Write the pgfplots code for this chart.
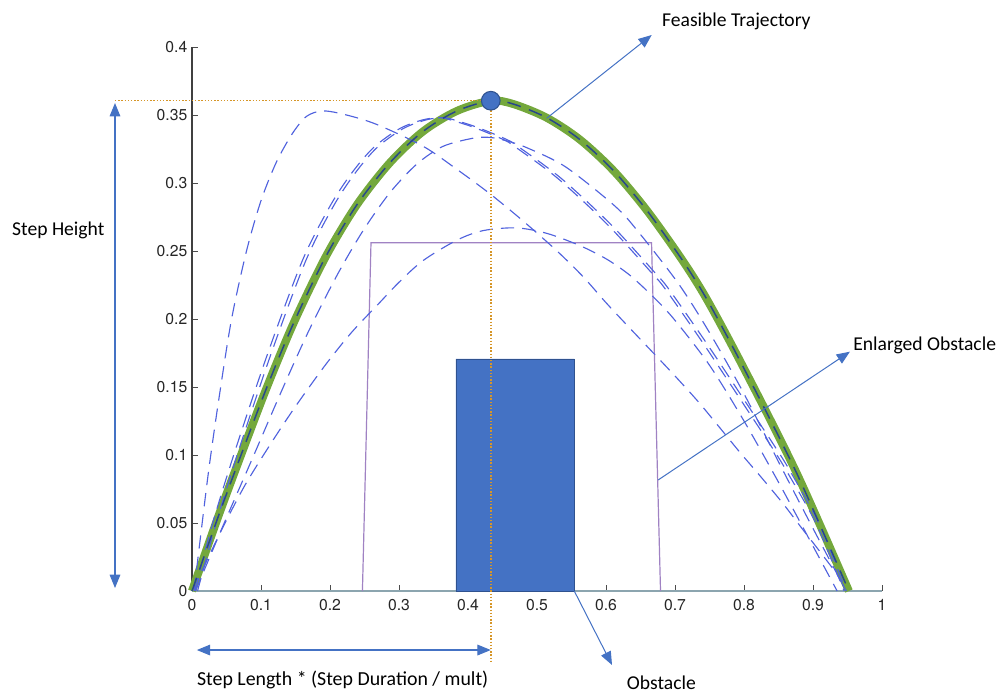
\documentclass[border=0pt]{standalone}
\usepackage{fontspec}
\setmainfont{Carlito}
\newfontfamily\helv{TeX Gyre Heros}
\usepackage{pgfplots}
\pgfplotsset{compat=1.18}
\usetikzlibrary{arrows.meta}
\definecolor{annot}{HTML}{4472C4}
\definecolor{annotdark}{HTML}{2F528F}
\definecolor{feas}{RGB}{116,168,60}
\definecolor{navy}{RGB}{40,70,140}
\definecolor{dashc}{RGB}{80,98,222}
\definecolor{enl}{RGB}{160,130,195}
\definecolor{gold}{RGB}{214,150,40}
\definecolor{xaxisc}{RGB}{140,165,175}
\begin{document}
\begin{tikzpicture}
\useasboundingbox (0,0) rectangle (748.5pt,519.75pt);
\begin{axis}[
  at={(144pt,76.5pt)}, anchor=south west,
  scale only axis, width=517.5pt, height=408pt,
  xmin=0, xmax=1, ymin=0, ymax=0.4,
  axis x line*=bottom, axis y line*=left,
  axis line style={-},
  x axis line style={draw=xaxisc, line width=0.9pt},
  y axis line style={draw=black!75, line width=0.8pt},
  tick align=inside, major tick length=4.5pt,
  tick style={color=black!70, line width=0.7pt},
  xtick={0,0.1,0.2,0.3,0.4,0.5,0.6,0.7,0.8,0.9,1},
  xticklabels={0,0.1,0.2,0.3,0.4,0.5,0.6,0.7,0.8,0.9,1},
  ytick={0,0.05,0.1,0.15,0.2,0.25,0.3,0.35,0.4},
  yticklabels={0,0.05,0.1,0.15,0.2,0.25,0.3,0.35,0.4},
  /pgf/number format/assume math mode=true,
  ticklabel style={font=\helv\fontsize{11.8pt}{13pt}\selectfont, text=black!85},
  xticklabel style={yshift=-2.5pt},
  clip=false,
]
% obstacle
\addplot[fill=annot, draw=annotdark, line width=0.6pt] coordinates {(0.3826,0) (0.3826,0.1706) (0.554,0.1706) (0.554,0) (0.3826,0)};
% enlarged obstacle
\addplot[enl, line width=0.9pt] coordinates {(0.247,0) (0.2594,0.256) (0.666,0.256) (0.679,0)};
% feasible trajectory (green)
\addplot[feas, line width=6pt, smooth] coordinates {
(0,0) (0.038,0.0547) (0.077,0.108) (0.111,0.153) (0.149,0.199) (0.194,0.246) (0.239,0.284) (0.287,0.315) (0.335,0.338) (0.384,0.353) (0.433,0.3605) (0.466,0.358) (0.514,0.348) (0.562,0.332) (0.611,0.309) (0.659,0.280) (0.707,0.246) (0.741,0.219) (0.780,0.183) (0.833,0.131) (0.876,0.087) (0.915,0.043) (0.952,0)};
% candidate trajectories (dashed)
\addplot[dashc, line width=0.85pt, dash pattern=on 10pt off 6pt, smooth] coordinates {
(0.003,0) (0.010,0.030) (0.024,0.088) (0.038,0.138) (0.057,0.199) (0.079,0.250) (0.100,0.287) (0.122,0.315) (0.145,0.336) (0.166,0.349) (0.190,0.353) (0.224,0.350) (0.268,0.343) (0.335,0.327) (0.384,0.310) (0.432,0.292) (0.480,0.272) (0.529,0.250) (0.567,0.231) (0.600,0.212) (0.635,0.193) (0.678,0.170) (0.702,0.157) (0.734,0.139) (0.765,0.120) (0.794,0.102) (0.826,0.083) (0.857,0.064) (0.884,0.046) (0.913,0.027) (0.935,0.012) (0.948,0)};
\addplot[dashc, line width=0.85pt, dash pattern=on 10pt off 6pt, smooth] coordinates {
(0.004,0) (0.030,0.050) (0.063,0.104) (0.110,0.175) (0.160,0.243) (0.200,0.283) (0.231,0.307) (0.263,0.326) (0.301,0.340) (0.335,0.3465) (0.360,0.348) (0.374,0.3465) (0.408,0.341) (0.451,0.332) (0.470,0.326) (0.531,0.303) (0.603,0.269) (0.666,0.234) (0.686,0.222) (0.741,0.182) (0.792,0.143) (0.840,0.106) (0.862,0.088) (0.905,0.049) (0.945,0)};
\addplot[dashc, line width=0.85pt, dash pattern=on 10pt off 6pt, smooth] coordinates {
(0.008,0) (0.035,0.050) (0.068,0.104) (0.115,0.175) (0.165,0.243) (0.205,0.283) (0.236,0.307) (0.268,0.326) (0.306,0.340) (0.340,0.3465) (0.365,0.348) (0.379,0.3465) (0.413,0.341) (0.456,0.332) (0.475,0.326) (0.536,0.303) (0.608,0.269) (0.671,0.234) (0.691,0.222) (0.746,0.182) (0.797,0.143) (0.845,0.106) (0.867,0.088) (0.909,0.049) (0.948,0)};
\addplot[dashc, line width=0.85pt, dash pattern=on 10pt off 6pt, smooth] coordinates {
(0.005,0) (0.045,0.048) (0.088,0.098) (0.128,0.145) (0.168,0.190) (0.210,0.232) (0.248,0.265) (0.287,0.293) (0.326,0.314) (0.364,0.327) (0.408,0.333) (0.432,0.3335) (0.456,0.331) (0.485,0.326) (0.541,0.312) (0.613,0.283) (0.647,0.264) (0.705,0.226) (0.750,0.190) (0.800,0.145) (0.850,0.095) (0.900,0.046) (0.948,0)};
\addplot[dashc, line width=0.85pt, dash pattern=on 10pt off 6pt, smooth] coordinates {
(0.004,0) (0.012,0.012) (0.043,0.045) (0.077,0.078) (0.115,0.109) (0.149,0.135) (0.193,0.166) (0.231,0.190) (0.270,0.211) (0.300,0.227) (0.335,0.243) (0.384,0.258) (0.422,0.265) (0.470,0.267) (0.514,0.263) (0.562,0.254) (0.601,0.244) (0.635,0.232) (0.671,0.215) (0.700,0.199) (0.750,0.166) (0.800,0.125) (0.850,0.080) (0.900,0.033) (0.935,0)};
% dark dashed overlay on feasible trajectory
\addplot[navy, line width=1.1pt, dash pattern=on 10.5pt off 6.5pt, smooth] coordinates {
(0,0) (0.038,0.0547) (0.077,0.108) (0.111,0.153) (0.149,0.199) (0.194,0.246) (0.239,0.284) (0.287,0.315) (0.335,0.338) (0.384,0.353) (0.433,0.3605) (0.466,0.358) (0.514,0.348) (0.562,0.332) (0.611,0.309) (0.659,0.280) (0.707,0.246) (0.741,0.219) (0.780,0.183) (0.833,0.131) (0.876,0.087) (0.915,0.043) (0.952,0)};
% guide lines
\draw[gold, line width=1.1pt, dash pattern=on 1.1pt off 1.3pt] (axis cs:-0.1116,0.3605) -- (axis cs:0.433,0.3605);
\draw[gold, line width=1.1pt, dash pattern=on 1.1pt off 1.3pt] (axis cs:0.433,0.3605) -- (axis cs:0.433,-0.0522);
% peak marker
\addplot[only marks, mark=*, mark size=7pt, mark options={fill=annot, draw=annotdark, line width=0.8pt}] coordinates {(0.433,0.3605)};
% annotations
\draw[annot, line width=0.8pt, {Triangle[length=10pt,width=8pt]}-{Triangle[length=10pt,width=8pt]}] (axis cs:-0.1116,0.3588) -- (axis cs:-0.1116,0.0022);
\node[anchor=west, inner sep=0, font=\fontsize{14.7pt}{17pt}\selectfont] at (axis cs:-0.261,0.2654) {Step Height};
\draw[annot, line width=0.8pt, {Triangle[length=10pt,width=8pt]}-{Triangle[length=10pt,width=8pt]}] (axis cs:0.007,-0.0434) -- (axis cs:0.433,-0.0434);
\node[anchor=west, inner sep=0, font=\fontsize{14.9pt}{17pt}\selectfont] at (axis cs:0.007,-0.0654) {Step Length * (Step Duration / mult)};
\draw[annot, line width=0.75pt, -{Triangle[length=10pt,width=8pt]}] (axis cs:0.554,0) -- (axis cs:0.6087,-0.0544);
\node[anchor=west, inner sep=0, font=\fontsize{14.7pt}{17pt}\selectfont] at (axis cs:0.630,-0.0676) {Obstacle};
\draw[annot, line width=0.75pt, -{Triangle[length=10pt,width=8pt]}] (axis cs:0.6755,0.0816) -- (axis cs:0.9536,0.176);
\node[anchor=west, inner sep=0, font=\fontsize{14.7pt}{17pt}\selectfont] at (axis cs:0.958,0.1809) {Enlarged Obstacle};
\draw[annot, line width=0.75pt, -{Triangle[length=10pt,width=8pt]}] (axis cs:0.514,0.3476) -- (axis cs:0.6662,0.4088);
\node[anchor=west, inner sep=0, font=\fontsize{14.7pt}{17pt}\selectfont] at (axis cs:0.681,0.419) {Feasible Trajectory};
\end{axis}
\end{tikzpicture}
\end{document}
